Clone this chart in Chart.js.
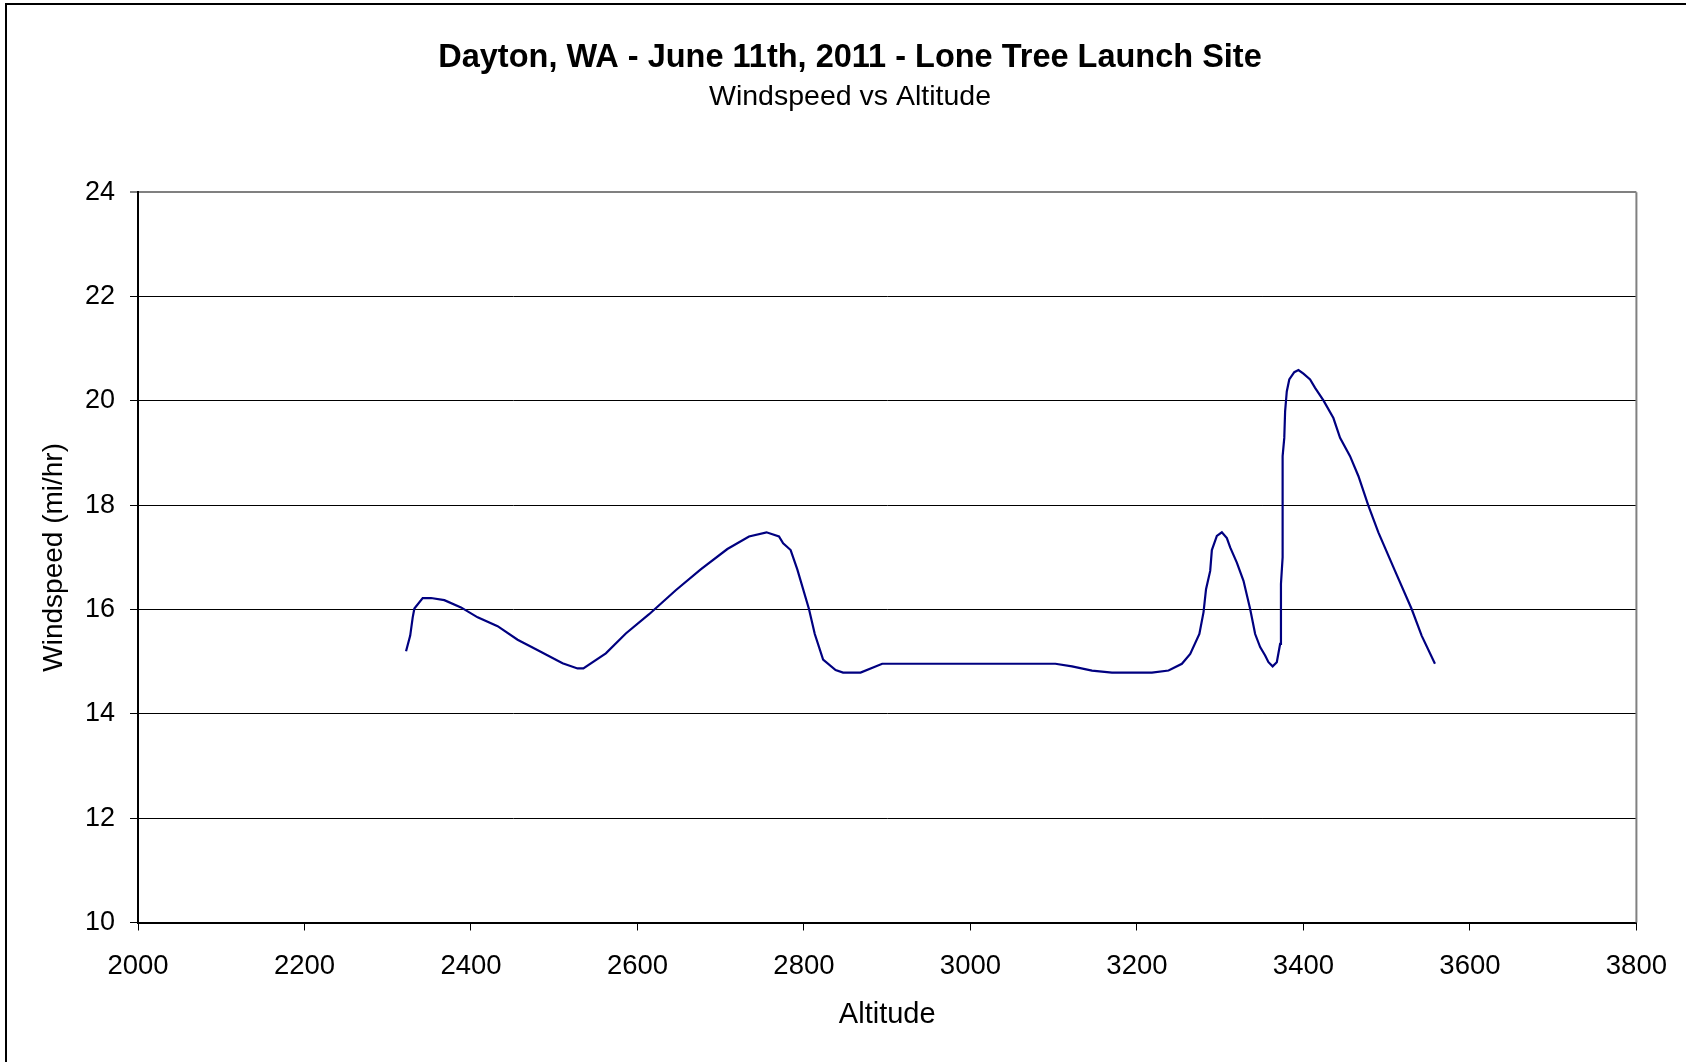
<!DOCTYPE html>
<html>
<head>
<meta charset="utf-8">
<title>Windspeed vs Altitude</title>
<script src="https://cdn.jsdelivr.net/npm/chart.js@4"></script>
<style>
  html, body { margin: 0; padding: 0; background: #fff; }
  #wrap { position: relative; width: 1686px; height: 1062px; }
  #frame { position: absolute; left: 5px; top: 3px; right: -10px; bottom: -10px; border-left: 2px solid #000; border-top: 2px solid #000; }
  canvas { position: absolute; left: 0; top: 0; }
</style>
</head>
<body>
<div id="wrap">
  <div id="frame"></div>
  <canvas id="chart" width="1686" height="1062"></canvas>
</div>
<script>
// altitude (ft) readings along the flight
const altitude = [
  2322, 2327, 2330, 2332, 2342, 2352, 2368, 2388, 2408, 2432,
  2456, 2478, 2510, 2528, 2535, 2562, 2586, 2614, 2646, 2676,
  2708, 2734, 2755, 2770, 2775, 2784, 2792, 2806, 2813, 2823,
  2838, 2847, 2868, 2894, 3102, 3122, 3146, 3170, 3218, 3238,
  3254, 3264, 3275, 3280, 3283, 3288, 3290, 3296, 3302, 3308,
  3312, 3320, 3328, 3336, 3342, 3348, 3354, 3358, 3363, 3368,
  3372, 3373, 3375, 3375, 3375, 3377, 3378, 3380, 3383, 3389,
  3394, 3400, 3408, 3414, 3424, 3436, 3444, 3456, 3466, 3478,
  3490, 3510, 3530, 3542, 3558
];

// windspeed (mi/hr) at each altitude
const windspeed = [
  15.20, 15.50, 15.85, 16.02, 16.22, 16.22, 16.18, 16.04, 15.85, 15.68,
  15.42, 15.24, 14.97, 14.87, 14.87, 15.16, 15.54, 15.91, 16.37, 16.77,
  17.16, 17.40, 17.48, 17.40, 17.27, 17.14, 16.77, 16.01, 15.53, 15.04,
  14.84, 14.79, 14.79, 14.96, 14.96, 14.91, 14.83, 14.79, 14.79, 14.83,
  14.96, 15.15, 15.53, 15.95, 16.39, 16.74, 17.14, 17.41, 17.48, 17.37,
  17.19, 16.90, 16.55, 16.01, 15.53, 15.28, 15.12, 14.99, 14.91, 14.99,
  15.34, 16.49, 17.00, 17.95, 18.94, 19.29, 19.80, 20.18, 20.41, 20.55,
  20.59, 20.52, 20.41, 20.25, 20.01, 19.67, 19.29, 18.94, 18.56, 17.99,
  17.48, 16.74, 16.01, 15.50, 14.96
];

const xTicks = [2000, 2200, 2400, 2600, 2800, 3000, 3200, 3400, 3600, 3800];
const yTicks = [10, 12, 14, 16, 18, 20, 22, 24];

const FONT = "'Liberation Sans', Arial, sans-serif";

// grey frame on the right side of the plot
const plotFrame = {
  id: 'plotFrame',
  afterDraw(chart) {
    const { ctx, chartArea: a } = chart;
    ctx.save();
    ctx.strokeStyle = '#808080';
    ctx.lineWidth = 2;
    ctx.beginPath();
    ctx.moveTo(a.right, a.top);
    ctx.lineTo(a.right, a.bottom);
    ctx.stroke();
    ctx.restore();
  }
};

new Chart(document.getElementById('chart'), {
  type: 'scatter',
  data: {
    datasets: [{
      label: 'Windspeed',
      data: altitude.map((a, i) => ({ x: a, y: windspeed[i] })),
      showLine: true,
      borderColor: '#000080',
      borderWidth: 2.2,
      pointRadius: 0,
      tension: 0
    }]
  },
  options: {
    responsive: false,
    animation: false,
    layout: { padding: { left: 62, right: 48, top: 0, bottom: 0 } },
    plugins: {
      legend: { display: false },
      tooltip: { enabled: false },
      title: {
        display: true,
        text: 'Dayton, WA - June 11th, 2011 - Lone Tree Launch Site',
        color: '#000',
        font: { family: FONT, size: 32.5, weight: 'bold' },
        padding: { top: 39, bottom: 2 }
      },
      subtitle: {
        display: true,
        text: 'Windspeed vs Altitude',
        color: '#000',
        font: { family: FONT, size: 28.5 },
        padding: { top: 0, bottom: 78 }
      }
    },
    scales: {
      x: {
        type: 'linear',
        min: xTicks[0],
        max: xTicks[xTicks.length - 1],
        afterBuildTicks: s => { s.ticks = xTicks.map(v => ({ value: v })); },
        afterFit: s => { s.height = 139.5; },
        ticks: {
          color: '#000',
          font: { family: FONT, size: 27.5 },
          padding: 19,
          maxRotation: 0,
          callback: v => String(v)
        },
        grid: { drawOnChartArea: false, drawTicks: true, tickLength: 8, color: '#000', lineWidth: 1 },
        border: { display: true, color: '#000', width: 2 },
        title: {
          display: true,
          text: 'Altitude',
          color: '#000',
          font: { family: FONT, size: 29 },
          padding: { top: 0, bottom: 30 }
        }
      },
      y: {
        type: 'linear',
        min: yTicks[0],
        max: yTicks[yTicks.length - 1],
        afterBuildTicks: s => { s.ticks = yTicks.map(v => ({ value: v })); },
        afterFit: s => { s.width = 76; },
        ticks: { color: '#000', font: { family: FONT, size: 27 }, padding: 15 },
        grid: {
          drawTicks: true,
          tickLength: 8,
          color: c => (c.tick && c.tick.value === 24 ? '#808080' : '#000'),
          lineWidth: c => (c.tick && c.tick.value === 24 ? 2 : 1)
        },
        border: { display: true, color: '#000', width: 2 },
        title: {
          display: true,
          text: 'Windspeed (mi/hr)',
          color: '#000',
          font: { family: FONT, size: 28 },
          padding: { top: -25, bottom: 0 }
        }
      }
    }
  },
  plugins: [plotFrame]
});
</script>
</body>
</html>
